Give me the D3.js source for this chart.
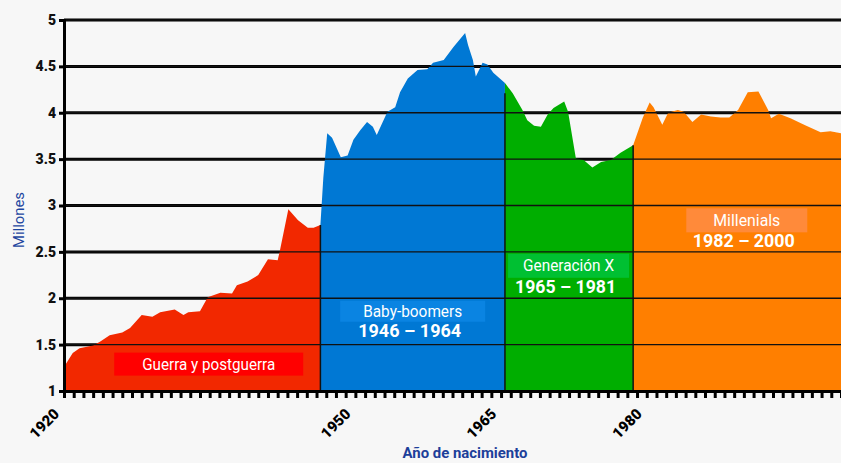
<!DOCTYPE html>
<html>
<head>
<meta charset="utf-8">
<script src="https://cdn.jsdelivr.net/npm/d3@7"></script>
<style>
  body { margin: 0; background: #f7f7f7; }
  svg { display: block; }
</style>
</head>
<body>
<div class="chart"></div>
<script>
// frame
let FRAME_WIDTH = 841;
let FRAME_HEIGHT = 463;

// generations: name, period, colour
const genNames = ["Guerra y postguerra", "Baby-boomers", "Generación X", "Millenials"];
const genPeriods = ["", "1946 – 1964", "1965 – 1981", "1982 – 2000"];
const genColors = ["#f22800", "#0078d4", "#00ae00", "#ff7f00"];
const genBoxColors = ["#ff0000", "#0a84e2", "#00c032", "#ff8a3a"];

// births (millions), year as drawn on the x axis
const redYears = [1920.0, 1920.9, 1921.6, 1923.0, 1923.7, 1924.7, 1926.0, 1926.8, 1928.0, 1929.1, 1929.9, 1931.4, 1932.3, 1932.8, 1934.0, 1934.8, 1936.1, 1937.3, 1937.8, 1938.9, 1940.0, 1941.0, 1942.0, 1942.2, 1943.1, 1944.1, 1945.1, 1945.7, 1946.4];
const redValues = [1.26, 1.41, 1.46, 1.49, 1.53, 1.60, 1.63, 1.68, 1.82, 1.80, 1.85, 1.88, 1.82, 1.85, 1.86, 2.01, 2.06, 2.05, 2.14, 2.18, 2.25, 2.42, 2.41, 2.50, 2.96, 2.84, 2.76, 2.76, 2.79];

const blueYears = [1946.4, 1946.7, 1947.1, 1947.6, 1948.5, 1949.2, 1949.8, 1950.5, 1951.2, 1951.8, 1952.2, 1953.3, 1954.1, 1954.6, 1955.4, 1956.4, 1957.4, 1958.0, 1959.1, 1960.1, 1961.3, 1961.6, 1962.1, 1962.4, 1963.1, 1963.6, 1964.2, 1965.4];
const blueValues = [2.79, 3.30, 3.78, 3.73, 3.52, 3.54, 3.71, 3.81, 3.90, 3.85, 3.76, 4.01, 4.06, 4.22, 4.37, 4.46, 4.47, 4.54, 4.57, 4.71, 4.86, 4.73, 4.57, 4.39, 4.54, 4.52, 4.43, 4.32];

const greenYears = [1965.4, 1966.2, 1967.2, 1967.7, 1968.4, 1969.1, 1969.8, 1970.4, 1971.5, 1971.9, 1972.7, 1973.5, 1974.4, 1975.3, 1976.3, 1977.3, 1978.6];
const greenValues = [4.32, 4.21, 4.03, 3.92, 3.86, 3.85, 3.98, 4.05, 4.12, 4.01, 3.51, 3.49, 3.41, 3.47, 3.49, 3.57, 3.65];

const orangeYears = [1978.6, 1979.6, 1980.3, 1980.7, 1981.6, 1982.2, 1983.2, 1983.8, 1984.7, 1985.6, 1986.6, 1987.6, 1988.5, 1989.4, 1990.4, 1991.5, 1992.5, 1992.8, 1993.6, 1994.8, 1996.2, 1997.9, 1998.9, 2000.0];
const orangeValues = [3.65, 3.95, 4.11, 4.06, 3.87, 4.00, 4.03, 4.01, 3.90, 3.98, 3.96, 3.95, 3.95, 4.03, 4.22, 4.23, 4.03, 3.94, 3.99, 3.94, 3.87, 3.79, 3.80, 3.78];

const yTicks = [1, 1.5, 2, 2.5, 3, 3.5, 4, 4.5, 5];
const xLabelTicks = [1920, 1950, 1965, 1980];

const series = [
  {years: redYears, values: redValues},
  {years: blueYears, values: blueValues},
  {years: greenYears, values: greenValues},
  {years: orangeYears, values: orangeValues}
];

// label placement (data coords of box centre), box size and text widths
const labelLayout = [
  {x: 1934.9, y: 1.29, w: 189, h: 23, tw: 133, pw: 0},
  {x: 1955.9, y: 1.86, w: 145, h: 21, tw: 99, pw: 103},
  {x: 1971.95, y: 2.35, w: 121, h: 24, tw: 91, pw: 101},
  {x: 1990.3, y: 2.84, w: 121, h: 24, tw: 67, pw: 102}
];

let svg = d3.select(".chart")
  .append("svg")
  .attr("width", FRAME_WIDTH)
  .attr("height", FRAME_HEIGHT);

svg.append("rect")
  .attr("width", FRAME_WIDTH)
  .attr("height", FRAME_HEIGHT)
  .attr("fill", "#f7f7f7");

const x = d3.scaleLinear().domain([1920, 2000]).range([64, 841]);
const y = d3.scaleLinear().domain([1, 5]).range([391, 20]);

// thick grid behind the areas
svg.append("g")
  .selectAll("line")
  .data(yTicks.slice(1))
  .enter().append("line")
  .attr("x1", 64).attr("x2", FRAME_WIDTH)
  .attr("y1", d => y(d)).attr("y2", d => y(d))
  .attr("stroke", "#000")
  .attr("stroke-width", 3);

// areas
let area = d3.area()
  .x(d => x(d[0]))
  .y0(y(1))
  .y1(d => y(d[1]));

series.forEach(function(s, i) {
  let pts = s.years.map((yr, j) => [yr, s.values[j]]);
  svg.append("path")
    .datum(pts)
    .attr("d", area)
    .attr("fill", genColors[i]);
});

// thin grid over the areas
svg.append("g")
  .selectAll("line")
  .data(yTicks.slice(1))
  .enter().append("line")
  .attr("x1", 64).attr("x2", FRAME_WIDTH)
  .attr("y1", d => y(d)).attr("y2", d => y(d))
  .attr("stroke", "#111")
  .attr("stroke-width", 1.3);

// borders between generations
svg.append("g")
  .selectAll("line")
  .data(series.slice(1))
  .enter().append("line")
  .attr("x1", d => x(d.years[0])).attr("x2", d => x(d.years[0]))
  .attr("y1", y(1))
  .attr("y2", d => y(Math.min(d.values[0], d.values[1])))
  .attr("stroke", "#111")
  .attr("stroke-width", 1.5);

// labels
labelLayout.forEach(function(l, i) {
  let cx = x(l.x), cy = y(l.y);
  let g = svg.append("g").attr("font-family", "Roboto, 'Liberation Sans', sans-serif").attr("fill", "#fff");
  if (genPeriods[i] != "") {
    g.append("text")
      .attr("x", cx - 3).attr("y", cy + l.h / 2 + 15)
      .attr("text-anchor", "middle")
      .attr("font-size", 18).attr("font-weight", "bold")
      .attr("textLength", l.pw).attr("lengthAdjust", "spacingAndGlyphs")
      .text(genPeriods[i]);
  }
  g.append("rect")
    .attr("x", cx - l.w / 2).attr("y", cy - l.h / 2)
    .attr("width", l.w).attr("height", l.h)
    .attr("fill", genBoxColors[i]);
  g.append("text")
    .attr("x", cx).attr("y", cy + 5.5)
    .attr("text-anchor", "middle")
    .attr("font-size", 17)
    .attr("textLength", l.tw).attr("lengthAdjust", "spacingAndGlyphs")
    .text(genNames[i]);
});

// x axis: yearly ticks
let xAxis = svg.append("g")
  .attr("transform", "translate(0," + y(1) + ")")
  .call(d3.axisBottom(x).tickValues(d3.range(1920, 2001)).tickSize(7).tickFormat(""));
xAxis.select(".domain").attr("stroke-width", 3);
xAxis.selectAll(".tick line").attr("stroke-width", 3);

// x axis labels
let xLab = svg.append("g")
  .attr("transform", "translate(0," + (y(1) + 14) + ")")
  .call(d3.axisBottom(x).tickValues(xLabelTicks).tickSize(0).tickFormat(d3.format("d")));
xLab.select(".domain").remove();
xLab.selectAll("text")
  .attr("font-family", "Roboto, sans-serif")
  .attr("font-size", 15)
  .attr("font-weight", "900")
  .attr("fill", "#000")
  .attr("text-anchor", "end")
  .attr("dx", "-10px")
  .attr("dy", "1px")
  .attr("transform", "rotate(-45)");

// y axis
let yAxis = svg.append("g")
  .attr("transform", "translate(64,0)")
  .call(d3.axisLeft(y).tickValues(yTicks).tickSize(5).tickPadding(3).tickFormat(d => d));
yAxis.select(".domain").attr("stroke-width", 3);
yAxis.selectAll(".tick line").attr("stroke-width", 3);
yAxis.selectAll("text")
  .attr("font-family", "Roboto, sans-serif")
  .attr("font-size", 14)
  .attr("font-weight", "900")
  .attr("fill", "#111");

// axis titles
svg.append("text")
  .attr("transform", "translate(24,220) rotate(-90)")
  .attr("text-anchor", "middle")
  .attr("font-family", "Roboto, sans-serif")
  .attr("font-size", 14)
  .attr("fill", "#1d46a0")
  .attr("textLength", 56).attr("lengthAdjust", "spacingAndGlyphs")
  .text("Millones");

svg.append("text")
  .attr("x", 465).attr("y", 458)
  .attr("text-anchor", "middle")
  .attr("font-family", "Roboto, sans-serif")
  .attr("font-size", 15)
  .attr("font-weight", "bold")
  .attr("fill", "#1d3f9a")
  .attr("textLength", 125).attr("lengthAdjust", "spacingAndGlyphs")
  .text("Año de nacimiento");
</script>
</body>
</html>
